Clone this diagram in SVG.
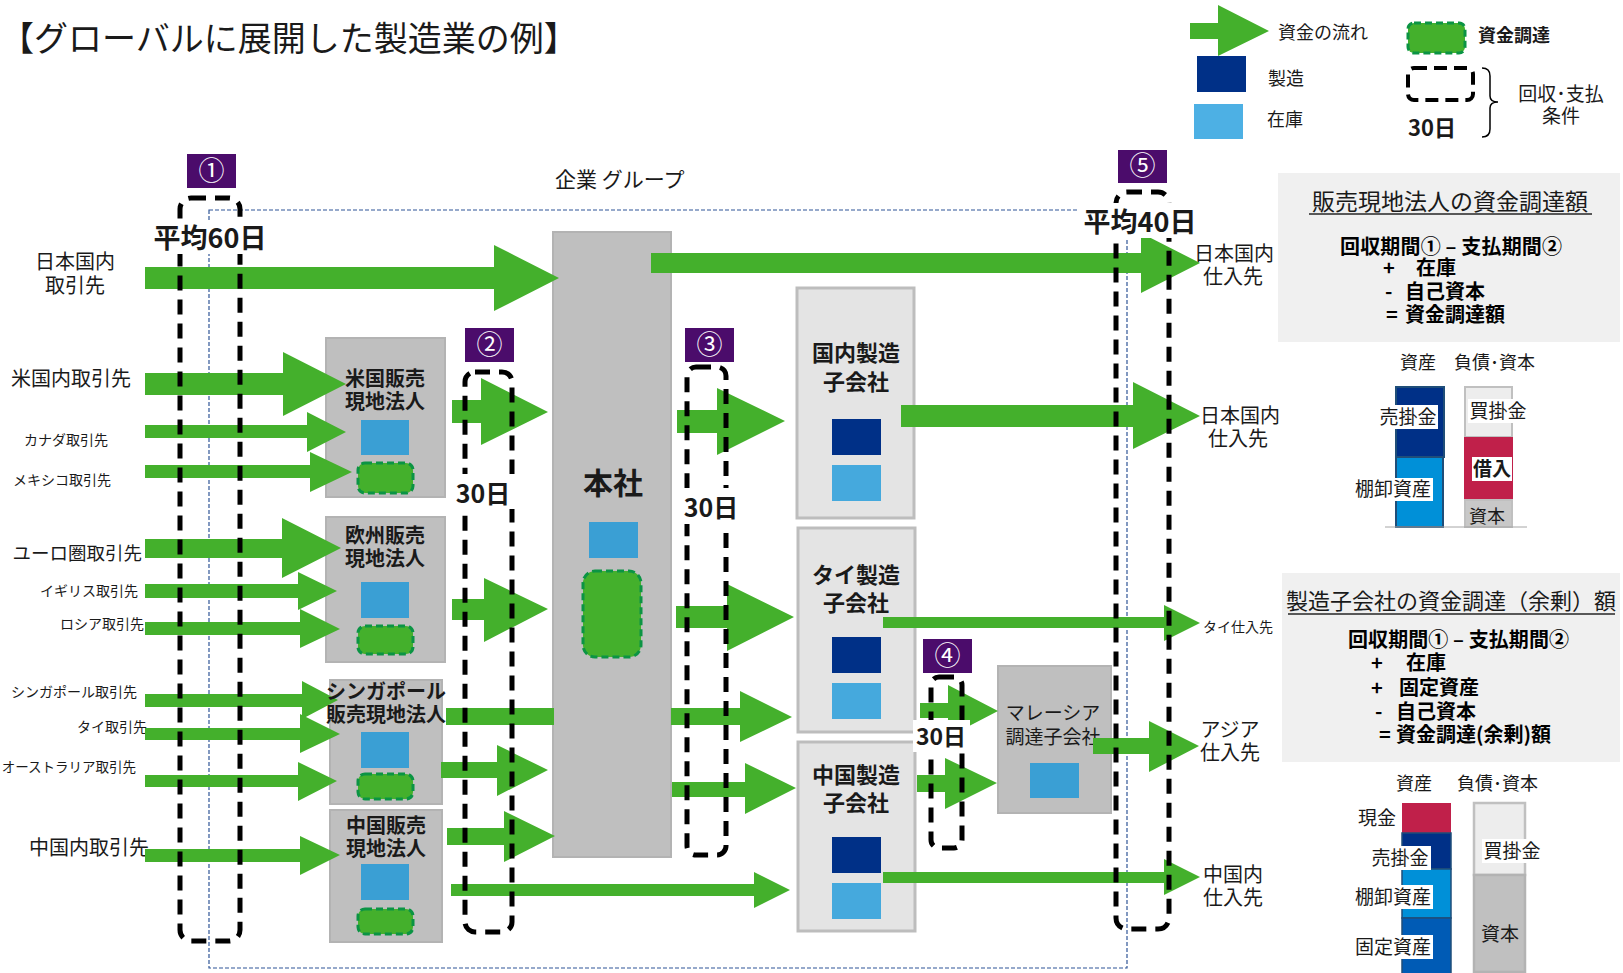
<svg xmlns="http://www.w3.org/2000/svg" width="1623" height="973" viewBox="0 0 1623 973">
<style>
.t{font-family:"Noto Sans CJK JP","Noto Sans",sans-serif;fill:#1a1a1a}
.b{font-weight:bold}
.m{text-anchor:middle}
.e{text-anchor:end}
.ar{fill:#44b02c}
.badge{fill:#4b0c6b}
.bt{font-family:"Noto Sans CJK JP","Noto Sans",sans-serif;fill:#fff;font-size:26px;text-anchor:middle}
.per{fill:none;stroke:#000;stroke-width:5;stroke-dasharray:15 9}
.fund{fill:#44b02c;stroke:#0b9444;stroke-width:3;stroke-dasharray:7 4}
.sales{fill:#bfbfbf;stroke:#b3b3b3;stroke-width:2}
.mfg{fill:#e4e4e4;stroke:#bdbdbd;stroke-width:3}
.inv{fill:#3a9fd4}
.inv2{fill:#45a9dd}
.mk{fill:#003087}
.wb{fill:#fff}
.f{font-family:"Noto Sans CJK JP","Noto Sans",sans-serif;fill:#000;font-weight:bold;font-size:20px}
</style>
<rect width="1623" height="973" fill="#fff"/>

<!-- title -->
<text class="t" x="0" y="51" font-size="34">【グローバルに展開した製造業の例】</text>

<!-- legend -->
<g id="legend">
<path class="ar" d="M1190,23 H1218 V5 L1269,31 L1218,56 V39 H1190 Z"/>
<text class="t" x="1278" y="39" font-size="18">資金の流れ</text>
<rect class="mk" x="1197" y="56" width="49" height="36"/>
<text class="t" x="1268" y="85" font-size="18">製造</text>
<rect fill="#4db0e4" x="1194" y="104" width="49" height="35"/>
<text class="t" x="1267" y="126" font-size="18">在庫</text>
<rect class="fund" x="1408" y="23" width="57" height="30" rx="6"/>
<text class="t b" x="1478" y="42" font-size="18">資金調達</text>
<rect fill="none" stroke="#000" stroke-width="4" stroke-dasharray="13 7" x="1408" y="68" width="65" height="32" rx="6"/>
<text class="t b" x="1408" y="136" font-size="22">30日</text>
<path d="M1482,68 Q1490,68 1490,76 V96 Q1490,102 1498,102 Q1490,102 1490,108 V129 Q1490,137 1482,137" fill="none" stroke="#000" stroke-width="1.5"/>
<text class="t m" x="1561" y="101" font-size="19">回収･支払</text>
<text class="t m" x="1561" y="123" font-size="19">条件</text>
</g>

<!-- group boundary -->
<g id="group">
<rect x="209" y="210" width="918" height="758" fill="none" stroke="#2f5597" stroke-width="1.2" stroke-dasharray="4 2"/>
<text class="t" x="555" y="187" font-size="21">企業 グループ</text>
</g>

<!-- source labels -->
<g id="sources">
<text class="t m" x="75" y="269" font-size="20">日本国内</text>
<text class="t m" x="75" y="293" font-size="20">取引先</text>
<text class="t e" x="131" y="386" font-size="20">米国内取引先</text>
<text class="t e" x="108" y="445" font-size="14">カナダ取引先</text>
<text class="t e" x="111" y="485" font-size="14">メキシコ取引先</text>
<text class="t e" x="142" y="560" font-size="18.5">ユーロ圏取引先</text>
<text class="t e" x="138" y="596" font-size="14">イギリス取引先</text>
<text class="t e" x="144" y="629" font-size="14">ロシア取引先</text>
<text class="t e" x="137" y="697" font-size="14">シンガポール取引先</text>
<text class="t e" x="147" y="732" font-size="14">タイ取引先</text>
<text class="t e" x="136" y="772" font-size="13.5">オーストラリア取引先</text>
<text class="t e" x="149" y="855" font-size="20">中国内取引先</text>
</g>

<!-- destination labels -->
<g id="destinations">
<text class="t m" x="1234" y="261" font-size="20">日本国内</text>
<text class="t m" x="1233" y="284" font-size="20">仕入先</text>
<text class="t m" x="1240" y="423" font-size="20">日本国内</text>
<text class="t m" x="1238" y="446" font-size="20">仕入先</text>
<text class="t" x="1203" y="632" font-size="14">タイ仕入先</text>
<text class="t m" x="1230" y="737" font-size="20">アジア</text>
<text class="t m" x="1230" y="760" font-size="20">仕入先</text>
<text class="t m" x="1233" y="882" font-size="20">中国内</text>
<text class="t m" x="1233" y="905" font-size="20">仕入先</text>
</g>

<!-- nodes -->
<g id="us-sales">
<rect class="sales" x="326" y="338" width="119" height="159"/>
<text class="t b m" x="385" y="386" font-size="20" fill="#000">米国販売</text>
<text class="t b m" x="385" y="409" font-size="20" fill="#000">現地法人</text>
<rect class="inv" x="361" y="420" width="48" height="35"/>
<rect class="fund" x="358" y="463" width="55" height="30" rx="7"/>
</g>
<g id="eu-sales">
<rect class="sales" x="326" y="517" width="119" height="145"/>
<text class="t b m" x="385" y="543" font-size="20">欧州販売</text>
<text class="t b m" x="385" y="566" font-size="20">現地法人</text>
<rect class="inv" x="361" y="582" width="48" height="36"/>
<rect class="fund" x="358" y="626" width="55" height="28" rx="7"/>
</g>
<g id="sg-sales">
<rect class="sales" x="330" y="680" width="112" height="124"/>
<rect class="inv" x="361" y="732" width="48" height="36"/>
<rect class="fund" x="358" y="774" width="55" height="25" rx="7"/>
</g>
<g id="cn-sales">
<rect class="sales" x="330" y="810" width="112" height="132"/>
<text class="t b m" x="386" y="833" font-size="20">中国販売</text>
<text class="t b m" x="386" y="856" font-size="20">現地法人</text>
<rect class="inv" x="361" y="864" width="48" height="36"/>
<rect class="fund" x="358" y="909" width="55" height="25" rx="7"/>
</g>
<g id="hq">
<rect class="sales" x="553" y="232" width="118" height="625"/>
<text class="t b m" x="613" y="494" font-size="30" fill="#404040">本社</text>
<rect class="inv" x="589" y="522" width="49" height="36"/>
<rect class="fund" x="583" y="571" width="58" height="86" rx="12"/>
</g>
<g id="dom-mfg">
<rect class="mfg" x="797" y="288" width="117" height="230"/>
<text class="t b m" x="856" y="361" font-size="22" fill="#404040">国内製造</text>
<text class="t b m" x="856" y="390" font-size="22" fill="#404040">子会社</text>
<rect class="mk" x="832" y="419" width="49" height="36"/>
<rect class="inv2" x="832" y="465" width="49" height="36"/>
</g>
<g id="th-mfg">
<rect class="mfg" x="798" y="528" width="117" height="204"/>
<text class="t b m" x="856" y="583" font-size="22" fill="#404040">タイ製造</text>
<text class="t b m" x="856" y="611" font-size="22" fill="#404040">子会社</text>
<rect class="mk" x="832" y="637" width="49" height="36"/>
<rect class="inv2" x="832" y="683" width="49" height="36"/>
</g>
<g id="cn-mfg">
<rect class="mfg" x="798" y="742" width="117" height="189"/>
<text class="t b m" x="856" y="783" font-size="22" fill="#404040">中国製造</text>
<text class="t b m" x="856" y="811" font-size="22" fill="#404040">子会社</text>
<rect class="mk" x="832" y="837" width="49" height="36"/>
<rect class="inv2" x="832" y="883" width="49" height="36"/>
</g>
<g id="my-proc">
<rect class="sales" x="998" y="666" width="113" height="147"/>
<text class="t m" x="1053" y="720" font-size="19" fill="#404040">マレーシア</text>
<text class="t m" x="1053" y="744" font-size="19" fill="#404040">調達子会社</text>
<rect class="inv" x="1030" y="763" width="49" height="35"/>
</g>

<!-- connectors -->
<g id="connectors">
<path class="ar" d="M145,267 H494 V245 L559,278 L494,311 V289 H145 Z"/>
<path class="ar" d="M651,253 H1141 V233 L1200,263 L1141,293 V273 H651 Z"/>
<path class="ar" d="M145,373 H283 V352 L346,384 L283,416 V395 H145 Z"/>
<path class="ar" d="M145,425 H307 V412 L346,432 L307,452 V438 H145 Z"/>
<path class="ar" d="M145,465 H310 V452 L352,472 L310,492 V478 H145 Z"/>
<path class="ar" d="M145,539 H282 V518 L341,548 L282,578 V558 H145 Z"/>
<path class="ar" d="M145,584 H298 V572 L337,591 L298,610 V598 H145 Z"/>
<path class="ar" d="M145,622 H300 V609 L340,629 L300,648 V635 H145 Z"/>
<path class="ar" d="M145,694 H302 V681 L338,700 L302,719 V707 H145 Z"/>
<path class="ar" d="M145,728 H300 V714 L340,734 L300,753 V740 H145 Z"/>
<path class="ar" d="M145,775 H298 V762 L337,781 L298,801 V787 H145 Z"/>
<path class="ar" d="M145,849 H300 V836 L340,855 L300,875 V862 H145 Z"/>
<path class="ar" d="M452,400 H481 V378 L548,412 L481,445 V423 H452 Z"/>
<path class="ar" d="M452,599 H484 V578 L548,609 L484,642 V620 H452 Z"/>
<path class="ar" d="M446,708 H554 V725 H446 Z"/>
<path class="ar" d="M441,762 H497 V745 L548,770 L497,796 V778 H441 Z"/>
<path class="ar" d="M447,828 H504 V811 L555,836 L504,862 V845 H447 Z"/>
<path class="ar" d="M451,884 H754 V872 L790,890 L754,908 V896 H451 Z"/>
<path class="ar" d="M677,410 H717 V388 L785,421 L717,455 V433 H677 Z"/>
<path class="ar" d="M676,606 H727 V584 L794,617 L727,651 V628 H676 Z"/>
<path class="ar" d="M671,708 H740 V691 L792,717 L740,742 V725 H671 Z"/>
<path class="ar" d="M672,782 H745 V763 L796,788 L745,814 V797 H672 Z"/>
<path class="ar" d="M901,405 H1133 V382 L1200,416 L1133,449 V427 H901 Z"/>
<path class="ar" d="M883,617 H1164 V605 L1200,623 L1164,641 V628 H883 Z"/>
<path class="ar" d="M1093,738 H1149 V721 L1199,746 L1149,772 V754 H1093 Z"/>
<path class="ar" d="M883,872 H1164 V859 L1200,877 L1164,895 V883 H883 Z"/>
<path class="ar" d="M920,703 H948 V685 L998,711 L948,737 V718 H920 Z"/>
<path class="ar" d="M917,775 H945 V758 L997,783 L945,809 V792 H917 Z"/>
</g>

<!-- Singapore label over arrows -->
<g id="sg-sales-label">
<text class="t b m" x="386" y="699" font-size="20">シンガポール</text>
<text class="t b m" x="386" y="722" font-size="20">販売現地法人</text>
</g>

<!-- period boxes -->
<g id="periods">
<rect class="per" x="180" y="198" width="60" height="743" rx="11"/>
<rect class="per" x="465" y="372" width="47" height="560" rx="10"/>
<rect class="per" x="687" y="367" width="39" height="488" rx="9"/>
<rect class="per" x="931" y="677" width="31" height="171" rx="8"/>
<rect class="per" x="1116" y="192" width="53" height="737" rx="11"/>

<rect class="wb" x="150" y="220" width="120" height="34"/>
<text class="t b m" x="210" y="248" font-size="27" fill="#000">平均60日</text>
<rect class="wb" x="1078" y="203" width="122" height="35"/>
<text class="t b m" x="1140" y="232" font-size="27" fill="#000">平均40日</text>
<rect class="wb" x="452" y="474" width="66" height="35"/>
<text class="t b m" x="483" y="503" font-size="25" fill="#000">30日</text>
<rect class="wb" x="681" y="488" width="60" height="36"/>
<text class="t b m" x="711" y="517" font-size="25" fill="#000">30日</text>
<rect class="wb" x="913" y="720" width="57" height="32"/>
<text class="t b m" x="941" y="745" font-size="23" fill="#000">30日</text>

<rect class="badge" x="187" y="154" width="49" height="34"/>
<text class="bt" x="211.5" y="180">①</text>
<rect class="badge" x="465" y="328" width="49" height="34"/>
<text class="bt" x="489.5" y="354">②</text>
<rect class="badge" x="685" y="328" width="49" height="34"/>
<text class="bt" x="709.5" y="354">③</text>
<rect class="badge" x="923" y="639" width="49" height="34"/>
<text class="bt" x="947.5" y="665">④</text>
<rect class="badge" x="1118" y="150" width="49" height="33"/>
<text class="bt" x="1142.5" y="175">⑤</text>
</g>

<!-- panel 1 -->
<g id="panel-sales">
<rect x="1278" y="173" width="342" height="169" fill="#f0f0f0"/>
<text class="t m" x="1450" y="210" font-size="23" fill="#262626">販売現地法人の資金調達額</text>
<line x1="1309" y1="214" x2="1592" y2="214" stroke="#262626" stroke-width="1.3"/>
<text class="f" x="1340" y="254" textLength="222">回収期間① – 支払期間②</text>
<text class="f" x="1383" y="275">+</text>
<text class="f" x="1416" y="275">在庫</text>
<text class="f" x="1385" y="299">-</text>
<text class="f" x="1405" y="299">自己資本</text>
<text class="f" x="1386" y="322">=</text>
<text class="f" x="1405" y="322">資金調達額</text>

<text class="t" x="1400" y="369" font-size="18">資産</text>
<text class="t" x="1454" y="369" font-size="18">負債･資本</text>
<rect x="1396" y="387" width="48" height="70" fill="#003087" stroke="#1f4e79" stroke-width="2"/>
<rect x="1396" y="457" width="47" height="70" fill="#0090d8" stroke="#1f4e79" stroke-width="2"/>
<rect x="1465" y="387" width="47" height="50" fill="#ededed" stroke="#c0c0c0" stroke-width="2"/>
<rect x="1464" y="437" width="49" height="63" fill="#c0204a"/>
<rect x="1465" y="500" width="47" height="27" fill="#c8c8c8" stroke="#c0c0c0" stroke-width="2"/>
<line x1="1385" y1="527" x2="1527" y2="527" stroke="#a6a6a6" stroke-width="1"/>
<rect class="wb" x="1378" y="405" width="60" height="24"/>
<text class="t m" x="1408" y="424" font-size="19">売掛金</text>
<rect class="wb" x="1353" y="478" width="80" height="23"/>
<text class="t m" x="1393" y="496" font-size="19">棚卸資産</text>
<rect class="wb" x="1468" y="399" width="60" height="24"/>
<text class="t m" x="1498" y="418" font-size="19">買掛金</text>
<rect class="wb" x="1472" y="457" width="40" height="24"/>
<text class="t b m" x="1492" y="476" font-size="19" fill="#c00000">借入</text>
<text class="t m" x="1487" y="523" font-size="18">資本</text>
</g>

<!-- panel 2 -->
<g id="panel-mfg">
<rect x="1282" y="573" width="338" height="189" fill="#f0f0f0"/>
<text class="t m" x="1451" y="609" font-size="22" fill="#262626">製造子会社の資金調達（余剰）額</text>
<line x1="1288" y1="614" x2="1615" y2="614" stroke="#262626" stroke-width="1.3"/>
<text class="f" x="1348" y="647" textLength="221">回収期間① – 支払期間②</text>
<text class="f" x="1371" y="670">+</text>
<text class="f" x="1406" y="670">在庫</text>
<text class="f" x="1371" y="695">+</text>
<text class="f" x="1399" y="695">固定資産</text>
<text class="f" x="1375" y="719">-</text>
<text class="f" x="1396" y="719">自己資本</text>
<text class="f" x="1379" y="742">=</text>
<text class="f" x="1396" y="742">資金調達(余剰)額</text>

<text class="t" x="1396" y="790" font-size="18">資産</text>
<text class="t" x="1457" y="790" font-size="18">負債･資本</text>
<rect x="1402" y="803" width="49" height="30" fill="#c0204a"/>
<rect x="1402" y="833" width="49" height="36" fill="#003087" stroke="#1f4e79" stroke-width="1.5"/>
<rect x="1402" y="869" width="49" height="49" fill="#0090d8" stroke="#1f4e79" stroke-width="1.5"/>
<rect x="1402" y="918" width="49" height="56" fill="#005bb5" stroke="#1f4e79" stroke-width="1.5"/>
<rect x="1474" y="803" width="51" height="72" fill="#ededed" stroke="#c0c0c0" stroke-width="2.5"/>
<rect x="1474" y="875" width="51" height="97" fill="#c0c0c0" stroke="#b3b3b3" stroke-width="2.5"/>
<text class="t m" x="1377" y="825" font-size="19">現金</text>
<rect class="wb" x="1369" y="846" width="62" height="24"/>
<text class="t m" x="1400" y="865" font-size="19">売掛金</text>
<rect class="wb" x="1353" y="885" width="80" height="24"/>
<text class="t m" x="1393" y="904" font-size="19">棚卸資産</text>
<rect class="wb" x="1353" y="935" width="80" height="24"/>
<text class="t m" x="1393" y="954" font-size="19">固定資産</text>
<rect class="wb" x="1482" y="839" width="60" height="24"/>
<text class="t m" x="1512" y="858" font-size="19">買掛金</text>
<text class="t m" x="1500" y="941" font-size="19">資本</text>
</g>
</svg>
